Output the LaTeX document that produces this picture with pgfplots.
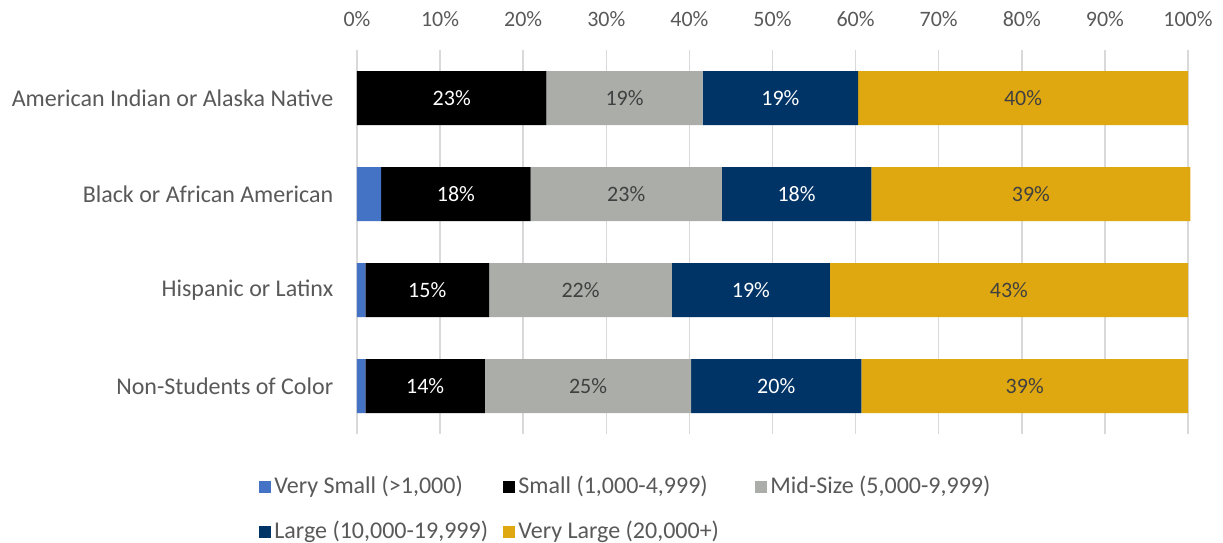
\documentclass[border=0pt]{standalone}
\usepackage{pgfplots}
\pgfplotsset{compat=1.18}
\usepackage{pgfplotstable}
\usepackage{fontspec}
\setmainfont{Carlito}
\definecolor{cVS}{HTML}{4472C4}
\definecolor{cS}{HTML}{000000}
\definecolor{cM}{HTML}{ABADA8}
\definecolor{cL}{HTML}{003366}
\definecolor{cVL}{HTML}{E0A810}
\definecolor{txt}{HTML}{595959}
\definecolor{lab}{HTML}{404040}
\definecolor{grid}{HTML}{D9D9D9}

\pgfplotstableread{
y v lab
0 0 0
1 2.9 3
2 1.0 1
3 1.0 1
}\tVS
\pgfplotstableread{
y v lab
0 22.8 23
1 18.0 18
2 14.9 15
3 14.4 14
}\tS
\pgfplotstableread{
y v lab
0 18.8 19
1 23.0 23
2 22.0 22
3 24.8 25
}\tM
\pgfplotstableread{
y v lab
0 18.7 19
1 18.0 18
2 19.0 19
3 20.5 20
}\tL
\pgfplotstableread{
y v lab
0 39.7 40
1 38.4 39
2 43.1 43
3 39.3 39
}\tVL

\begin{document}
\fontsize{11}{13}\selectfont
\begin{tikzpicture}
\useasboundingbox (0,0) rectangle (611.5pt,271pt);
\begin{axis}[
  at={(178.5pt,54pt)}, anchor=south west,
  scale only axis, width=415.5pt, height=192pt,
  xbar stacked, bar width=27pt,
  xmin=0, xmax=100, ymin=-0.5, ymax=3.5, y dir=reverse,
  clip=false,
  axis line style={draw=none},
  major tick length=0pt,
  xtick={0,10,...,100},
  xticklabels={0\%,10\%,20\%,30\%,40\%,50\%,60\%,70\%,80\%,90\%,100\%},
  xticklabel pos=top,
  xmajorgrids, major grid style={color=grid, line width=0.75pt},
  ytick={0,1,2,3},
  yticklabels={American Indian or Alaska Native, Black or African American, Hispanic or Latinx, Non-Students of Color},
  ticklabel style={text=txt},
  yticklabel style={xshift=-8pt, font=\fontsize{12}{14}\selectfont},
  xticklabel style={yshift=8pt, font=\fontsize{11}{13}\selectfont},
  /pgf/number format/assume math mode=true,
  legend columns=3,
  legend style={draw=none, at={(0,0)}, anchor=north west, xshift=-52pt, yshift=-17pt,
    font=\fontsize{12}{14}\selectfont, text=txt, row sep=8pt,
    nodes={inner xsep=1.5pt}},
  legend cell align=left,
  legend image code/.code={\fill[#1] (0pt,-3pt) rectangle (6pt,3pt);},
  point meta=explicit symbolic,
  nodes near coords style={font=\fontsize{11}{13}\selectfont, anchor=center},
]
\addplot[fill=cVS, draw=none] table[x=v, y=y] {\tVS};
\addlegendentry{\makebox[113pt][l]{Very Small (>1,000)}}
\addplot[fill=cS, draw=none, nodes near coords={\pgfplotspointmeta\%},
  every node near coord/.append style={text=white}]
  table[x=v, y=y, meta=lab] {\tS};
\addlegendentry{\makebox[117pt][l]{Small (1,000-4,999)}}
\addplot[fill=cM, draw=none, nodes near coords={\pgfplotspointmeta\%},
  every node near coord/.append style={text=lab}]
  table[x=v, y=y, meta=lab] {\tM};
\addlegendentry{Mid-Size (5,000-9,999)}
\addplot[fill=cL, draw=none, nodes near coords={\pgfplotspointmeta\%},
  every node near coord/.append style={text=white}]
  table[x=v, y=y, meta=lab] {\tL};
\addlegendentry{\makebox[113pt][l]{Large (10,000-19,999)}}
\addplot[fill=cVL, draw=none, nodes near coords={\pgfplotspointmeta\%},
  every node near coord/.append style={text=lab}]
  table[x=v, y=y, meta=lab] {\tVL};
\addlegendentry{\makebox[117pt][l]{Very Large (20,000+)}}
\end{axis}
\end{tikzpicture}
\end{document}
